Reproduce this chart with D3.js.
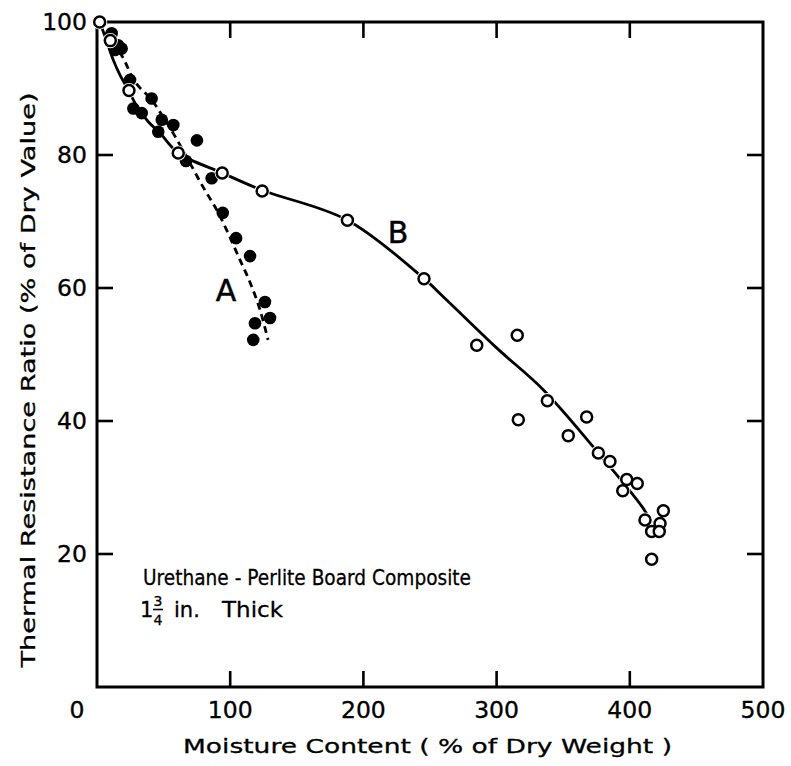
<!DOCTYPE html>
<html>
<head>
<meta charset="utf-8">
<script src="https://cdn.jsdelivr.net/npm/d3@7"></script>
<style>
  html, body { margin: 0; padding: 0; background: #fff; }
  svg { display: block; }
  text { font-family: "DejaVu Sans", "Liberation Sans", Arial, sans-serif; fill: #000; }
</style>
</head>
<body>
<svg id="chart" width="791" height="766"></svg>
<script>
// Measured points: moisture content (% of dry weight) vs thermal resistance ratio (% of dry value)
const seriesA_points = [
  [11, 98.3], [15.8, 96.5], [18.5, 96.0], [13.5, 95.8], [24.8, 91.3],
  [41, 88.5], [27.3, 87.0], [33.6, 86.3], [48.6, 85.3], [57.3, 84.5],
  [46, 83.5], [75, 82.2], [66.8, 79.1], [86.1, 76.5], [94.4, 71.3],
  [104.4, 67.5], [114.9, 64.8], [126.1, 57.9], [129.9, 55.5], [118.6, 54.7],
  [117.3, 52.2]
];
const seriesB_points = [
  [2, 100], [10, 97.2], [24, 89.7], [61, 80.3], [94, 77.3], [124, 74.6],
  [188, 70.2], [245.5, 61.4], [285.1, 51.4], [315.5, 52.9], [316.3, 40.2],
  [338.1, 43.05], [353.8, 37.8], [367.6, 40.6], [376.4, 35.2], [385.1, 33.9],
  [397.7, 31.2], [405.6, 30.6], [394.7, 29.5], [425.2, 26.5], [411.4, 25.1],
  [422.7, 24.6], [416.4, 23.4], [422.1, 23.4], [416.4, 19.2]
];
// Fitted curves drawn through each series
const curveA = [
  [2, 100], [10, 97.2], [19, 94.8], [28.5, 91.0], [41, 88.3], [50, 85.6],
  [58.6, 82.8], [67.3, 79.7], [79.6, 75.2], [90, 71.7], [98.3, 68.3],
  [107.4, 64.2], [115, 60.8], [122.4, 56.7], [128.4, 52.2]
];
const curveB = [
  [2, 100], [7, 97.3], [12, 94.4], [17.3, 92.0], [24, 89.6], [30, 87.3],
  [38.5, 85.0], [47.3, 83.3], [61, 80.3], [94, 77.3], [124, 74.7],
  [188, 70.2], [245.5, 61.4], [262.5, 58.2], [300, 51.0], [335, 44.7],
  [372.6, 36.1], [410, 26.9], [416, 24.8]
];
const xTicks = [100, 200, 300, 400, 500];
const yTicks = [20, 40, 60, 80, 100];
const xTitle = "Moisture  Content  ( % of  Dry  Weight )";
const yTitle = "Thermal  Resistance  Ratio  (% of  Dry  Value)";
const noteLine1 = "Urethane - Perlite  Board  Composite";

const svg = d3.select("#chart");
const L = 97, R = 763, T = 22, B = 687;

const x = d3.scaleLinear().domain([0, 500]).range([L, R]);
const y = d3.scaleLinear().domain([0, 100]).range([B, T]);

const ink = "#000";
const tickLen = 16, tickW = 2.6;

// Frame
svg.append("rect").attr("x", L).attr("y", T).attr("width", R - L).attr("height", B - T)
  .attr("fill", "none").attr("stroke", ink).attr("stroke-width", 3);

// Inward tick marks on all four sides
const xInner = xTicks.filter(v => v < 500);
const yInner = yTicks.filter(v => v < 100);
const gTicks = svg.append("g").attr("stroke", ink).attr("stroke-width", tickW);
gTicks.selectAll("line.xb").data(xInner).join("line").attr("class", "xb")
  .attr("x1", d => x(d)).attr("x2", d => x(d)).attr("y1", B).attr("y2", B - tickLen);
gTicks.selectAll("line.xt").data(xInner).join("line").attr("class", "xt")
  .attr("x1", d => x(d)).attr("x2", d => x(d)).attr("y1", T).attr("y2", T + tickLen);
gTicks.selectAll("line.yl").data(yInner).join("line").attr("class", "yl")
  .attr("y1", d => y(d)).attr("y2", d => y(d)).attr("x1", L).attr("x2", L + tickLen);
gTicks.selectAll("line.yr").data(yInner).join("line").attr("class", "yr")
  .attr("y1", d => y(d)).attr("y2", d => y(d)).attr("x1", R).attr("x2", R - tickLen);

// Tick labels
const labelStyle = sel => sel.attr("font-size", 23.5).attr("stroke", ink).attr("stroke-width", 0.35);
svg.append("g").selectAll("text").data(xTicks).join("text")
  .attr("x", d => x(d)).attr("y", B + 23).attr("dy", "0.36em").attr("text-anchor", "middle")
  .call(labelStyle).text(d => d);
svg.append("text").attr("x", x(0) - 20).attr("y", B + 23).attr("dy", "0.36em")
  .attr("text-anchor", "middle").call(labelStyle).text("0");
svg.append("g").selectAll("text").data(yTicks).join("text")
  .attr("x", L - 10).attr("y", d => y(d)).attr("dy", "0.36em").attr("text-anchor", "end")
  .call(labelStyle).text(d => d);

// Axis titles
svg.append("text").attr("x", (183 + 672) / 2).attr("y", 753)
  .attr("text-anchor", "middle").attr("font-size", 20)
  .attr("stroke", ink).attr("stroke-width", 0.3)
  .attr("textLength", 489).attr("lengthAdjust", "spacingAndGlyphs")
  .text(xTitle);
svg.append("text").attr("transform", `translate(35,${380}) rotate(-90)`)
  .attr("text-anchor", "middle").attr("font-size", 20)
  .attr("stroke", ink).attr("stroke-width", 0.3)
  .attr("textLength", 575).attr("lengthAdjust", "spacingAndGlyphs")
  .text(yTitle);

// Curves
const line = d3.line().x(d => x(d[0])).y(d => y(d[1])).curve(d3.curveCatmullRom.alpha(0.5));
svg.append("path").datum(curveB).attr("d", line)
  .attr("fill", "none").attr("stroke", ink).attr("stroke-width", 2.8);
svg.append("path").datum(curveA).attr("d", line)
  .attr("fill", "none").attr("stroke", ink).attr("stroke-width", 2.8)
  .attr("stroke-dasharray", "7,5");

// Filled markers (series A)
svg.append("g").selectAll("circle").data(seriesA_points).join("circle")
  .attr("cx", d => x(d[0])).attr("cy", d => y(d[1])).attr("r", 6.3)
  .attr("fill", ink);

// Open markers (series B) with a thin white halo
const gB = svg.append("g");
gB.selectAll("circle.halo").data(seriesB_points).join("circle").attr("class", "halo")
  .attr("cx", d => x(d[0])).attr("cy", d => y(d[1])).attr("r", 7.6)
  .attr("fill", "#fff");
gB.selectAll("circle.mk").data(seriesB_points).join("circle").attr("class", "mk")
  .attr("cx", d => x(d[0])).attr("cy", d => y(d[1])).attr("r", 5.5)
  .attr("fill", "#fff").attr("stroke", ink).attr("stroke-width", 2.5);

// Curve labels
svg.append("text").attr("x", 226).attr("y", 301).attr("text-anchor", "middle")
  .attr("font-size", 30).attr("stroke", ink).attr("stroke-width", 0.5).text("A");
svg.append("text").attr("x", 398).attr("y", 243).attr("text-anchor", "middle")
  .attr("font-size", 30).attr("stroke", ink).attr("stroke-width", 0.5).text("B");

// Specimen note: title line, then thickness with a stacked fraction
svg.append("text").attr("x", 143).attr("y", 585).attr("font-size", 21)
  .attr("stroke", ink).attr("stroke-width", 0.3)
  .attr("textLength", 328).attr("lengthAdjust", "spacingAndGlyphs").text(noteLine1);
const note2 = svg.append("g").attr("stroke", ink).attr("stroke-width", 0.3);
note2.append("text").attr("x", 140).attr("y", 617).attr("font-size", 21).text("1");
note2.append("text").attr("x", 158).attr("y", 606).attr("text-anchor", "middle").attr("font-size", 14).text("3");
note2.append("line").attr("x1", 153).attr("x2", 163).attr("y1", 609.5).attr("y2", 609.5)
  .attr("stroke-width", 1.6);
note2.append("text").attr("x", 158).attr("y", 625).attr("text-anchor", "middle").attr("font-size", 14).text("4");
note2.append("text").attr("x", 174).attr("y", 617).attr("font-size", 21).text("in.");
note2.append("text").attr("x", 222).attr("y", 617).attr("font-size", 21)
  .attr("textLength", 61).attr("lengthAdjust", "spacingAndGlyphs").text("Thick");
</script>
</body>
</html>
